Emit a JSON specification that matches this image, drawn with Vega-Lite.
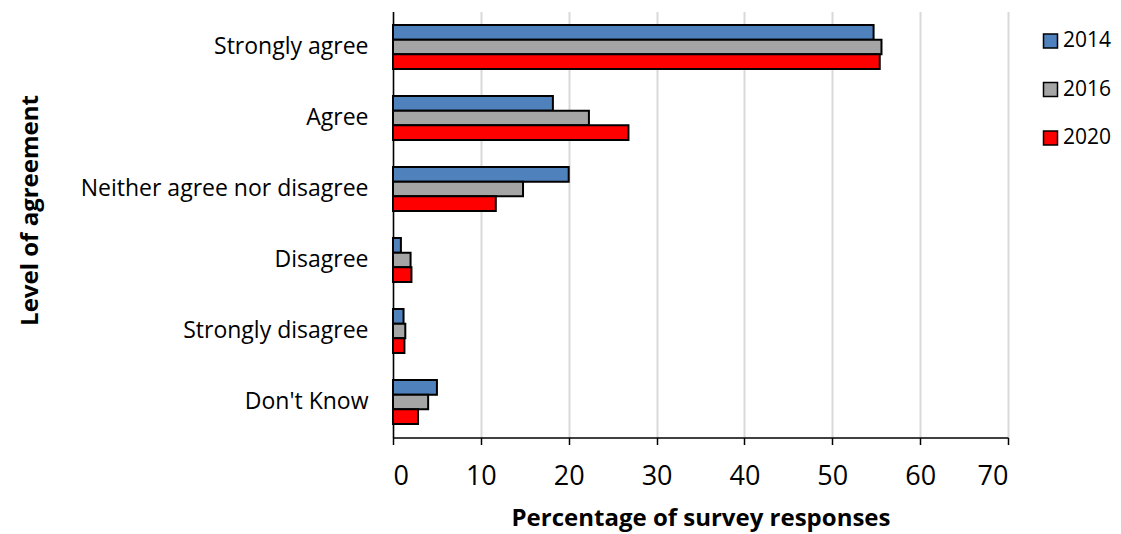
{
  "$schema": "https://vega.github.io/schema/vega-lite/v6.json",
  "width": 615,
  "height": 426,
  "autosize": "none",
  "padding": {"left": 393, "top": 11.5, "right": 113, "bottom": 96.5},
  "background": "white",
  "config": {
    "font": "Open Sans",
    "view": {"stroke": null}
  },
  "data": {
    "values": [
      {"level": "Strongly agree", "year": "2014", "pct": 54.7},
      {"level": "Strongly agree", "year": "2016", "pct": 55.6},
      {"level": "Strongly agree", "year": "2020", "pct": 55.4},
      {"level": "Agree", "year": "2014", "pct": 18.2},
      {"level": "Agree", "year": "2016", "pct": 22.3},
      {"level": "Agree", "year": "2020", "pct": 26.8},
      {"level": "Neither agree nor disagree", "year": "2014", "pct": 20.0},
      {"level": "Neither agree nor disagree", "year": "2016", "pct": 14.8},
      {"level": "Neither agree nor disagree", "year": "2020", "pct": 11.7},
      {"level": "Disagree", "year": "2014", "pct": 0.9},
      {"level": "Disagree", "year": "2016", "pct": 2.0},
      {"level": "Disagree", "year": "2020", "pct": 2.1},
      {"level": "Strongly disagree", "year": "2014", "pct": 1.2},
      {"level": "Strongly disagree", "year": "2016", "pct": 1.4},
      {"level": "Strongly disagree", "year": "2020", "pct": 1.3},
      {"level": "Don't Know", "year": "2014", "pct": 5.0},
      {"level": "Don't Know", "year": "2016", "pct": 4.0},
      {"level": "Don't Know", "year": "2020", "pct": 2.85}
    ]
  },
  "mark": {"type": "bar", "stroke": "black", "strokeWidth": 2},
  "encoding": {
    "y": {
      "field": "level",
      "type": "nominal",
      "sort": ["Strongly agree", "Agree", "Neither agree nor disagree", "Disagree", "Strongly disagree", "Don't Know"],
      "scale": {"paddingInner": 0.38, "paddingOuter": 0.19},
      "axis": {
        "title": "Level of agreement",
        "titleFontSize": 24,
        "titleFontWeight": "bold",
        "titleColor": "black",
        "titleX": -356,
        "titleY": 198.5,
        "titleBaseline": "alphabetic",
        "labelFontSize": 23,
        "labelColor": "black",
        "labelPadding": 25,
        "labelLimit": 400,
        "ticks": false,
        "domainColor": "black",
        "domainWidth": 1.5,
        "grid": false
      }
    },
    "yOffset": {
      "field": "year",
      "type": "nominal",
      "scale": {"paddingInner": 0, "paddingOuter": 0}
    },
    "x": {
      "field": "pct",
      "type": "quantitative",
      "scale": {"domain": [0, 70], "nice": false},
      "axis": {
        "title": "Percentage of survey responses",
        "titleFontSize": 24,
        "titleFontWeight": "bold",
        "titleColor": "black",
        "titleY": 88,
        "titleBaseline": "alphabetic",
        "values": [0, 10, 20, 30, 40, 50, 60, 70],
        "labelFontSize": 27,
        "labelColor": "black",
        "labelPadding": 19,
        "tickSize": 7,
        "tickColor": "black",
        "tickWidth": 1.5,
        "domainColor": "black",
        "domainWidth": 1.5,
        "grid": true,
        "gridColor": "#d9d9d9",
        "gridWidth": 2
      }
    },
    "color": {
      "field": "year",
      "type": "nominal",
      "scale": {"domain": ["2014", "2016", "2020"], "range": ["#4F81BD", "#A5A5A5", "#FF0000"]},
      "legend": {
        "title": null,
        "orient": "none",
        "legendX": 647,
        "legendY": 19,
        "symbolType": "square",
        "symbolSize": 196,
        "symbolStrokeColor": "black",
        "symbolStrokeWidth": 1.5,
        "labelFontSize": 21,
        "labelColor": "black",
        "rowPadding": 26.5,
        "labelOffset": 2
      }
    }
  }
}
